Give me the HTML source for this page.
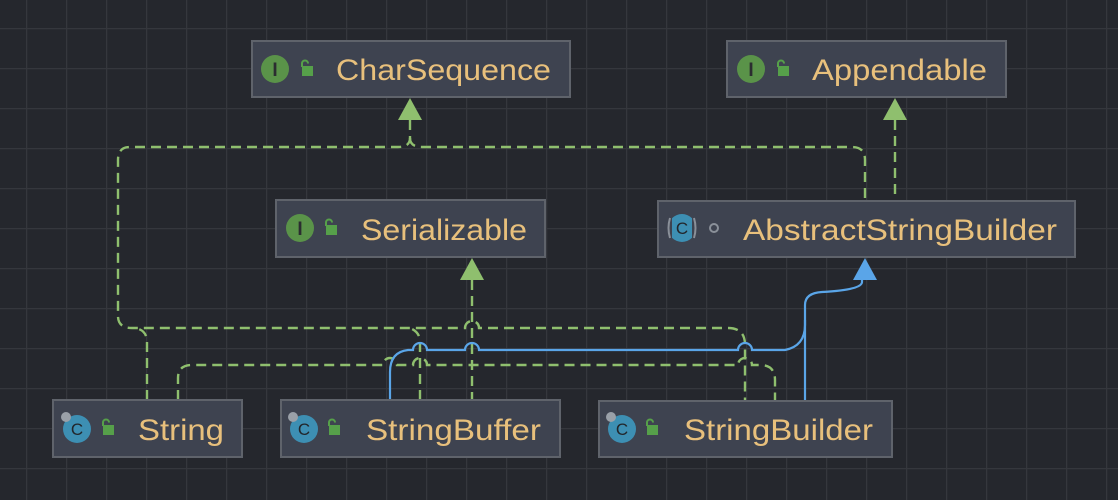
<!DOCTYPE html>
<html><head><meta charset="utf-8"><style>
html,body{margin:0;padding:0;background:#25272d;}
svg{display:block;}
text{font-family:"Liberation Sans",sans-serif;}
</style></head><body>
<svg width="1118" height="500" viewBox="0 0 1118 500" xmlns="http://www.w3.org/2000/svg">
<defs>
<pattern id="g" x="26" y="28" width="40" height="40" patternUnits="userSpaceOnUse">
<path d="M0 0H40M0 0V40" stroke="#35373d" stroke-width="2.5" fill="none"/>
</pattern>
</defs>
<rect width="1118" height="500" fill="#25272d"/>
<rect width="1118" height="500" fill="url(#g)"/>

<g fill="none" stroke="#8fbf6e" stroke-width="2.4" stroke-dasharray="10,6">
<path d="M410 120 V138 Q410 147 398 147 H130 Q118 147 118 160 V316 Q118 328 132 328 H465 A7 7 0 0 1 479 328 H728 Q745 328 745 345 V400"/>
<path d="M410 138 Q410 147 422 147 H852 Q865 147 865 160 V200"/>
<path d="M147 400 V342 Q147 330 135 328"/>
<path d="M420 400 V342 Q420 332 410 328"/>
<path d="M895 120 V200"/>
<path d="M178 400 V378 Q178 365 192 365 H383 A7 7 0 0 1 397 365 H413 A7 7 0 0 1 427 365 H738 A7 7 0 0 1 752 365 H760 Q775 365 775 380 V400"/>
<path d="M472 280 V400"/>
</g>
<g fill="#8fbf6e">
<polygon points="410,98 398,120 422,120"/>
<polygon points="895,98 883,120 907,120"/>
<polygon points="472,258 460,280 484,280"/>
</g>

<g fill="none" stroke="#5aa5e8" stroke-width="2.2">
<path d="M390 400 V372 Q390 352 408 350 H413 A7 7 0 0 1 427 350 H465 A7 7 0 0 1 479 350 H738 A7 7 0 0 1 752 350 H785 Q805 346 805 325 V305 Q805 293 822 292 Q862 290 862 282 V278"/>
<path d="M805 400 V320"/>
</g>
<polygon points="865,258 853,280 877,280" fill="#5aa5e8"/>

<g fill="#3e4350" stroke="#5f636b" stroke-width="2">
<rect x="252" y="41" width="318" height="56"/>
<rect x="727" y="41" width="279" height="56"/>
<rect x="276" y="200" width="269" height="57"/>
<rect x="658" y="201" width="417" height="56"/>
<rect x="53" y="400" width="189" height="57"/>
<rect x="281" y="400" width="279" height="57"/>
<rect x="599" y="401" width="293" height="56"/>
</g>

<g>
<circle cx="275" cy="69" r="14" fill="#5a9349"/><text x="275" y="76" font-size="19" font-weight="bold" fill="#2b2d30" text-anchor="middle" font-family="Liberation Serif">I</text>
<circle cx="751" cy="69" r="14" fill="#5a9349"/><text x="751" y="76" font-size="19" font-weight="bold" fill="#2b2d30" text-anchor="middle" font-family="Liberation Serif">I</text>
<circle cx="300" cy="228" r="14" fill="#5a9349"/><text x="300" y="235" font-size="19" font-weight="bold" fill="#2b2d30" text-anchor="middle" font-family="Liberation Serif">I</text>
</g>
<g fill="#56a04a" stroke="#56a04a">
<g transform="translate(300,62)"><rect x="2" y="4" width="11" height="10" stroke="none"/><path d="M2 5 V1.5 A3 3 0 0 1 8 1.5" fill="none" stroke-width="2"/></g>
<g transform="translate(776,62)"><rect x="2" y="4" width="11" height="10" stroke="none"/><path d="M2 5 V1.5 A3 3 0 0 1 8 1.5" fill="none" stroke-width="2"/></g>
<g transform="translate(324,221)"><rect x="2" y="4" width="11" height="10" stroke="none"/><path d="M2 5 V1.5 A3 3 0 0 1 8 1.5" fill="none" stroke-width="2"/></g>
<g transform="translate(101,421)"><rect x="2" y="4" width="11" height="10" stroke="none"/><path d="M2 5 V1.5 A3 3 0 0 1 8 1.5" fill="none" stroke-width="2"/></g>
<g transform="translate(327,421)"><rect x="2" y="4" width="11" height="10" stroke="none"/><path d="M2 5 V1.5 A3 3 0 0 1 8 1.5" fill="none" stroke-width="2"/></g>
<g transform="translate(645,421)"><rect x="2" y="4" width="11" height="10" stroke="none"/><path d="M2 5 V1.5 A3 3 0 0 1 8 1.5" fill="none" stroke-width="2"/></g>
</g>
<g>
<circle cx="77" cy="429" r="14" fill="#3d8fb3"/><circle cx="66" cy="417" r="5" fill="#9aa0a8"/><text x="77" y="435" font-size="17" fill="#22262b" text-anchor="middle">C</text>
<circle cx="304" cy="429" r="14" fill="#3d8fb3"/><circle cx="293" cy="417" r="5" fill="#9aa0a8"/><text x="304" y="435" font-size="17" fill="#22262b" text-anchor="middle">C</text>
<circle cx="622" cy="429" r="14" fill="#3d8fb3"/><circle cx="611" cy="417" r="5" fill="#9aa0a8"/><text x="622" y="435" font-size="17" fill="#22262b" text-anchor="middle">C</text>
<circle cx="682" cy="228" r="14" fill="#3d8fb3"/><rect x="667" y="214" width="5" height="28" fill="#3e4350"/><rect x="692" y="214" width="5" height="28" fill="#3e4350"/>
<path d="M670 218 Q667 228 670 238 M694 218 Q697 228 694 238" stroke="#8a9099" stroke-width="2" fill="none"/>
<text x="682" y="234" font-size="17" fill="#22262b" text-anchor="middle">C</text>
<circle cx="714" cy="228" r="4" fill="none" stroke="#8a9099" stroke-width="2"/>
</g>

<g fill="#e8c07c" font-size="30">
<text x="336" y="80" textLength="215" lengthAdjust="spacingAndGlyphs">CharSequence</text>
<text x="812" y="80" textLength="175" lengthAdjust="spacingAndGlyphs">Appendable</text>
<text x="361" y="240" textLength="166" lengthAdjust="spacingAndGlyphs">Serializable</text>
<text x="743" y="240" textLength="314" lengthAdjust="spacingAndGlyphs">AbstractStringBuilder</text>
<text x="138" y="440" textLength="86" lengthAdjust="spacingAndGlyphs">String</text>
<text x="366" y="440" textLength="175" lengthAdjust="spacingAndGlyphs">StringBuffer</text>
<text x="684" y="440" textLength="189" lengthAdjust="spacingAndGlyphs">StringBuilder</text>
</g>
</svg>
</body></html>
